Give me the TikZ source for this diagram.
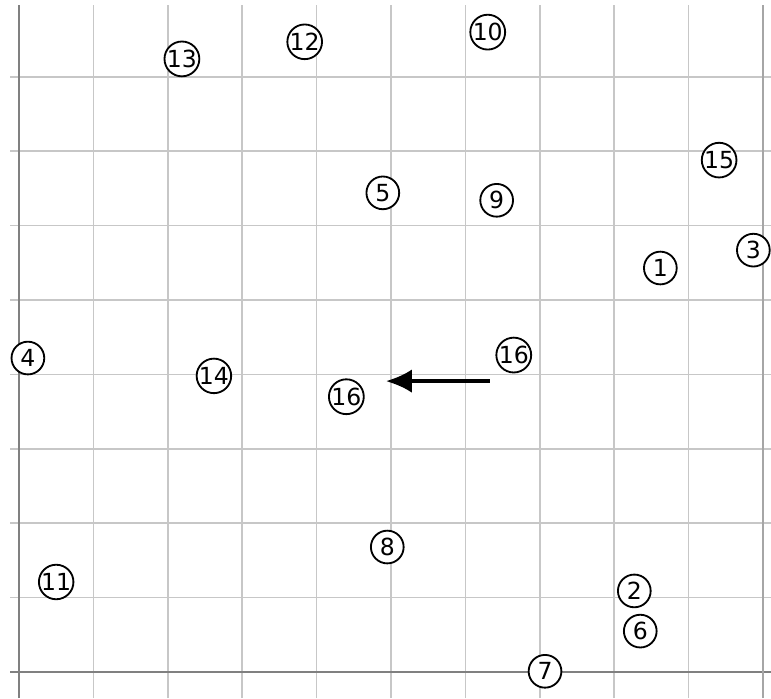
\documentclass[tikz,border=0pt]{standalone}
\usepackage{fontspec}
\setmainfont{DejaVu Sans}
\usetikzlibrary{arrows.meta}
\tikzset{
	pt/.style={draw, circle, line width=0.7pt, inner sep=0pt, minimum size=0.44cm, font=\fontsize{9}{9}\selectfont},
	gridline/.style={black!22, line width=0.6pt}
}
\begin{document}
\begin{tikzpicture}
	\def\xY{-0.255};
	\def\yY{-0.349};
	\def\xZ{10.107};
	\def\yZ{9.032};
	\coordinate (Y) at (\xY,\yY);
	\coordinate (Z) at (\xZ,\yZ);
	\useasboundingbox (Y) rectangle (Z);
	\draw[step=1cm, gridline] (-0.12,\yY) grid (\xZ,8.96);
	\draw[black!50, line width=0.7pt] (0,\yY) -- (0,8.96);
	\draw[black!50, line width=0.7pt] (-0.12,0) -- (\xZ,0);
	\draw[black!35, line width=0.6pt] (10,\yY) -- (10,8.96);
	\foreach \name/\x/\y/\lbl in {p1/8.62/5.43/1, p2/8.27/1.09/2, p3/9.87/5.67/3, p4/0.12/4.22/4,
		p5/4.89/6.44/5, p6/8.35/0.55/6, p7/7.07/0.01/7, p8/4.95/1.68/8, p9/6.42/6.34/9,
		p10/6.30/8.60/10, p11/0.50/1.21/11, p12/3.84/8.47/12, p13/2.19/8.24/13,
		p14/2.62/3.98/14, p15/9.41/6.88/15, p16a/6.65/4.26/16, p16b/4.40/3.70/16}
		\node[pt, fill=white] (\name) at (\x,\y) {\lbl};
	% move of 16
	\coordinate (from) at (6.33,3.91);
	\coordinate (to) at (4.93,3.91);
	\draw[-{Latex[length=10pt,width=9pt]}, line width=1.5pt] (from) -- (to);
\end{tikzpicture}
\end{document}
